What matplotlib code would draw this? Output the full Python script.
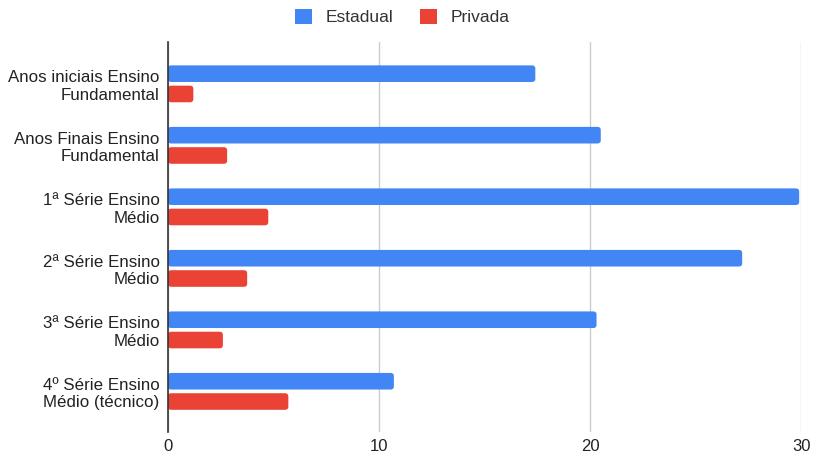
import numpy as np
import matplotlib.pyplot as plt
from matplotlib.patches import FancyBboxPatch, Patch

plt.rcParams['font.family'] = ['Liberation Sans', 'DejaVu Sans']

categories = [
    "Anos iniciais Ensino\nFundamental",
    "Anos Finais Ensino\nFundamental",
    "1ª Série Ensino\nMédio",
    "2ª Série Ensino\nMédio",
    "3ª Série Ensino\nMédio",
    "4º Série Ensino\nMédio (técnico)",
]
estadual = [17.4, 20.5, 29.9, 27.2, 20.3, 10.7]
privada = [1.2, 2.8, 4.75, 3.75, 2.6, 5.7]

blue = "#4285F4"
red = "#EA4335"

fig = plt.figure(figsize=(8.14, 4.54), dpi=100)
ax = fig.add_axes([0.2064, 0.0485, 0.778, 0.859])

y = np.arange(len(categories))
h = 0.27
b1 = ax.barh(y - 0.165, estadual, height=h, color=blue, zorder=3)
b2 = ax.barh(y + 0.165, privada, height=h, color=red, zorder=3)

ax.set_xlim(0, 30)
ax.set_ylim(5.66, -0.68)

# round the bar ends a little, like the original
aspect = 21.1 / 61.6
for bars in (b1, b2):
    for p in bars:
        x0, y0 = p.get_x(), p.get_y()
        w, hh = p.get_width(), p.get_height()
        p.set_visible(False)
        ax.add_patch(FancyBboxPatch((x0, y0), w, hh,
                                    boxstyle="round,pad=0,rounding_size=0.15",
                                    mutation_aspect=aspect,
                                    facecolor=p.get_facecolor(), edgecolor="none", zorder=3))

ax.set_yticks(y)
ax.set_yticklabels(categories, fontsize=12.2, color="#222222", linespacing=1.2)
ax.set_xticks([0, 10, 20, 30])
ax.tick_params(axis="x", labelsize=12, colors="#222222", length=0, pad=5)
ax.tick_params(axis="y", length=0, pad=6)
ax.grid(axis="x", color="#cccccc", linewidth=1, zorder=0)
for s in ["top", "right", "bottom"]:
    ax.spines[s].set_visible(False)
ax.spines["left"].set_color("#333333")
ax.spines["left"].set_linewidth(1.2)
ax.spines["left"].set_zorder(4)

handles = [Patch(facecolor=blue, label="Estadual"), Patch(facecolor=red, label="Privada")]
ax.legend(handles=handles, loc="lower center", bbox_to_anchor=(0.37, 1.025), ncol=2,
          frameon=False, fontsize=12.5, handlelength=1.0, handleheight=1.0,
          columnspacing=1.5, handletextpad=0.8, borderaxespad=0.0, labelcolor="#333333")

fig.savefig("out.png", dpi=100)
